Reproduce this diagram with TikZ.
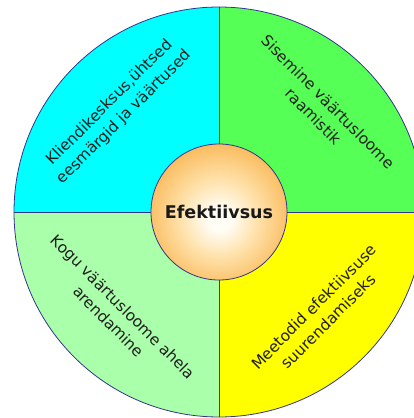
\documentclass[tikz,border=0pt]{standalone}
\usepackage{fontspec}
\setmainfont{DejaVu Sans}
\usetikzlibrary{positioning}
\definecolor{qcyan}{HTML}{00FFFF}
\definecolor{qgreen}{HTML}{55FF55}
\definecolor{qmint}{HTML}{AAFFAA}
\definecolor{qyellow}{HTML}{FFFF00}
\definecolor{rimblue}{HTML}{34348A}
\definecolor{coreorange}{HTML}{EE9420}
\definecolor{coremid}{HTML}{F8B24A}
\definecolor{corepale}{HTML}{FFE2AC}
\definecolor{corelight}{HTML}{FFFDF6}
\pgfdeclareradialshading{coreball}{\pgfpoint{0bp}{-3bp}}{color(0bp)=(corelight); color(4bp)=(corelight); color(14bp)=(corepale); color(30bp)=(coremid); color(48bp)=(coreorange); color(55bp)=(coreorange)}

\begin{document}
\begin{tikzpicture}[x=1pt,y=1pt,
  rim/.style={draw=rimblue,line width=.8pt},
  quadtext/.style={align=center,text=black!88,font=\fontsize{15.4}{20.5}\selectfont}]
\useasboundingbox (-219,-206) rectangle (195,212);
\clip (-219,-206) rectangle (195,212);
\coordinate (hub) at (0,0);
\coordinate (w) at (-205,0);
\coordinate (e) at (205,0);
\coordinate (n) at (0,205);
\coordinate (s) at (0,-205);
\fill[qcyan] (hub)--(w) arc[start angle=180,end angle=90,radius=205]--cycle;
\fill[qgreen] (hub)--(n) arc[start angle=90,end angle=0,radius=205]--cycle;
\fill[qmint] (hub)--(w) arc[start angle=180,end angle=270,radius=205]--cycle;
\fill[qyellow] (hub)--(s) arc[start angle=270,end angle=360,radius=205]--cycle;
\draw[rim] (hub) circle (205);
\draw[rim] (w)--(e);
\draw[rim] (n)--(s);
\node[quadtext,rotate=45] (customer) at (-102,102) {Kliendikesksus,ühtsed\\eesmärgid ja väärtused};
\node[quadtext,rotate=-45] (inner) at (102,103) {Sisemine väärtusloome\\raamistik};
\node[quadtext,rotate=-45] (chain) at (-103,-102) {Kogu väärtusloome ahela\\arendamine};
\node[quadtext,rotate=45] (methods) at (102,-102) {Meetodid efektiivsuse\\suurendamiseks};
\node[circle,minimum size=136,inner sep=0pt,draw=rimblue,line width=.8pt,shading=coreball,
  font=\fontsize{17.5}{20}\selectfont\bfseries,text=black!90] (core) at (hub) {Efektiivsus};
\end{tikzpicture}
\end{document}
